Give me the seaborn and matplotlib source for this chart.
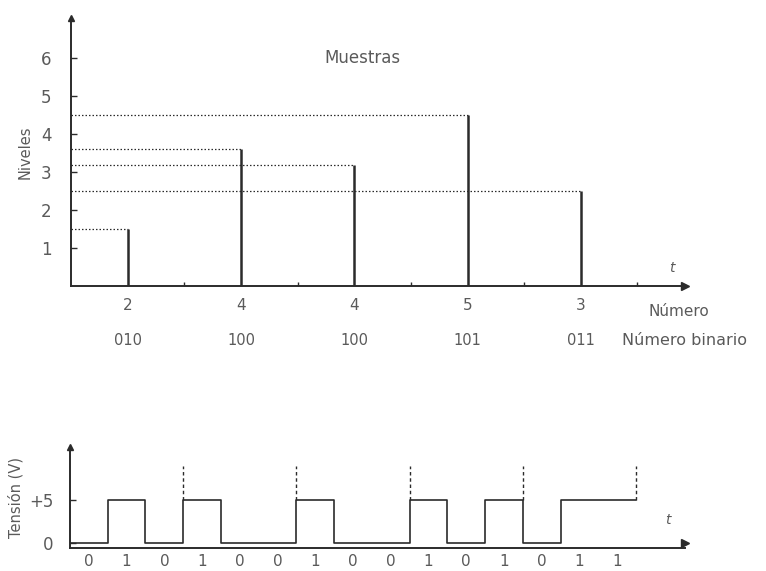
import numpy as np
import pandas as pd
import matplotlib
matplotlib.use("Agg")
import matplotlib.pyplot as plt
import seaborn as sns

# sampled signal (top panel)
t_samples = [0.5, 1.5, 2.5, 3.5, 4.5]
levels = [1.5, 3.6, 3.2, 4.5, 2.5]
numbers = ["2", "4", "4", "5", "3"]
binary = ["010", "100", "100", "101", "011"]
level_ticks = [1, 2, 3, 4, 5, 6]

# serial pulse train (bottom panel)
bits = [int(c) for word in binary for c in word]
high_volts = 5

ink = "#2b2b2b"
txt = "#5a5a5a"

sns.set_theme(style="white")
plt.rcParams["font.family"] = ["DejaVu Sans"]

fig = plt.figure(figsize=(7.66, 5.71), dpi=100)
fig.patch.set_facecolor("white")

# ---- top: samples ----
ax = fig.add_axes([0.0927, 0.499, 0.8016, 0.469])
ax.set_xlim(0, 5.42)
ax.set_ylim(0, 7.05)
ax.vlines(t_samples, 0, levels, color=ink, lw=1.8)
ax.hlines(levels, 0, t_samples, color=ink, lw=0.9, linestyles=(0, (1.2, 1.6)))
for s in ["top", "right"]:
    ax.spines[s].set_visible(False)
for s in ["left", "bottom"]:
    ax.spines[s].set_color(ink)
    ax.spines[s].set_linewidth(1.4)
ax.plot(1, 0, ">", color=ink, ms=6, transform=ax.get_yaxis_transform(), clip_on=False)
ax.plot(0, 1, "^", color=ink, ms=5, transform=ax.get_xaxis_transform(), clip_on=False)
ax.set_yticks(level_ticks)
ax.set_yticklabels([str(v) for v in level_ticks], color=txt, fontsize=12)
ax.set_xticks([1, 2, 3, 4, 5])
ax.set_xticklabels([])
ax.tick_params(axis="both", direction="in", length=4, width=1, color=ink, left=True, bottom=True, pad=14)
ax.tick_params(axis="x", length=3)
ax.set_ylabel("Niveles", color=txt, fontsize=10.5, labelpad=6)
ax.text(2.57, 6.0, "Muestras", color=txt, fontsize=12, ha="center", va="center")
ax.text(5.3, 0.47, "t", color=txt, fontsize=10, style="italic", ha="center", va="center")
for x, n, b in zip(t_samples, numbers, binary):
    ax.text(x, -0.5, n, color=txt, fontsize=11, ha="center", va="center", clip_on=False)
    ax.text(x, -1.42, b, color=txt, fontsize=10.5, ha="center", va="center", clip_on=False)
ax.text(5.1, -0.66, "Número", color=txt, fontsize=11, ha="left", va="center", clip_on=False)
ax.text(4.86, -1.42, "Número binario", color=txt, fontsize=11.5, ha="left", va="center", clip_on=False)

# ---- bottom: pulse train ----
bx = fig.add_axes([0.0914, 0.0403, 0.803, 0.177])
edges = np.arange(len(bits) + 1)
wave = pd.DataFrame({"t": edges, "v": [b * high_volts for b in bits] + [bits[-1] * high_volts]})
sns.lineplot(data=wave, x="t", y="v", drawstyle="steps-post", color=ink, lw=1.2, ax=bx)
bx.vlines(edges[3::3], high_volts, 9.0, color=ink, lw=1.0, linestyles=(0, (2.5, 2.0)))
bx.set_xlim(0, 16.3)
bx.set_ylim(-0.6, 11.2)
for s in ["top", "right"]:
    bx.spines[s].set_visible(False)
for s in ["left", "bottom"]:
    bx.spines[s].set_color(ink)
    bx.spines[s].set_linewidth(1.4)
bx.plot(1, 0, ">", color=ink, ms=6, transform=bx.get_yaxis_transform(), clip_on=False)
bx.plot(0, 1, "^", color=ink, ms=5, transform=bx.get_xaxis_transform(), clip_on=False)
bx.set_yticks([0, high_volts])
bx.set_yticklabels(["0", "+5"], color=txt, fontsize=12)
bx.set_xticks([])
bx.tick_params(axis="y", direction="in", length=4, width=1, color=ink, left=True, pad=12)
bx.set_xlabel("")
bx.set_ylabel("Tensión (V)", color=txt, fontsize=10.5, labelpad=4)
bx.text(15.85, 2.7, "t", color=txt, fontsize=10, style="italic", ha="center", va="center")
for i, b in enumerate(bits):
    bx.text(i + 0.5, -2.2, str(b), color=txt, fontsize=11, ha="center", va="center", clip_on=False)

fig.savefig("out.png", dpi=100, facecolor="white")
